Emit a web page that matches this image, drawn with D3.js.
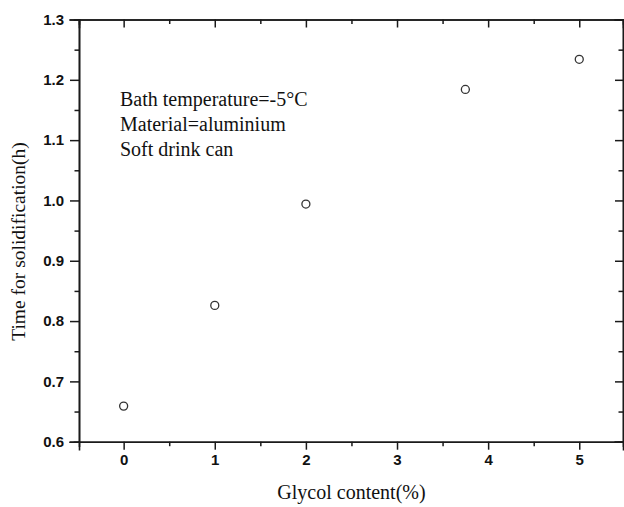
<!DOCTYPE html>
<html>
<head>
<meta charset="utf-8">
<script src="https://cdn.jsdelivr.net/npm/d3@7"></script>
<style>
  html, body { margin: 0; padding: 0; background: #fff; }
  svg { display: block; }
</style>
</head>
<body>
<svg id="chart" width="624" height="507"></svg>
<script>
// Glycol content (%) and measured solidification time (h)
const glycol = [0, 1, 2, 3.75, 5];
const solidTime = [0.659, 0.826, 0.994, 1.184, 1.234];
const xTicks = [0, 1, 2, 3, 4, 5];
const yTicks = [0.6, 0.7, 0.8, 0.9, 1.0, 1.1, 1.2, 1.3];
const notes = ["Bath temperature=-5°C", "Material=aluminium", "Soft drink can"];

const svg = d3.select("#chart");
const plotLeft = 79, plotRight = 623, plotTop = 19.5, plotBottom = 441.7;

const x = d3.scaleLinear().domain([-0.49, 5.48]).range([plotLeft, plotRight]);
const y = d3.scaleLinear().domain([0.6, 1.3]).range([plotBottom, plotTop]);

const axisColor = "#1a1a1a";
const tickFont = "'Liberation Sans', Arial, sans-serif";
const serif = "'Liberation Serif', 'Times New Roman', serif";

const xMinor = d3.range(-0.5, 5.51, 0.5).filter(v => v >= -0.49 && v <= 5.48 && Math.abs(v - Math.round(v)) > 1e-6);
const yMinor = d3.range(0.65, 1.3, 0.1).map(v => +v.toFixed(2));

function styleAxis(g) {
  g.select(".domain").attr("stroke", axisColor).attr("stroke-width", 1.6);
  g.selectAll(".tick line").attr("stroke", axisColor).attr("stroke-width", 1.5);
  g.selectAll(".tick text")
    .attr("fill", "#111")
    .style("font-family", tickFont)
    .style("font-size", "15px")
    .style("font-weight", "bold");
}

// Bottom axis: major and minor ticks
svg.append("g").attr("transform", `translate(0,${plotBottom})`)
  .call(d3.axisBottom(x).tickValues(xMinor).tickSize(4.5).tickFormat(""))
  .call(styleAxis);
svg.append("g").attr("transform", `translate(0,${plotBottom})`)
  .call(d3.axisBottom(x).tickValues(xTicks).tickSize(8).tickPadding(5).tickFormat(d3.format("d")))
  .call(styleAxis);

// Top axis: inward ticks, no labels
svg.append("g").attr("transform", `translate(0,${plotTop})`)
  .call(d3.axisTop(x).tickValues(xMinor).tickSize(-4.5).tickFormat(""))
  .call(styleAxis);
svg.append("g").attr("transform", `translate(0,${plotTop})`)
  .call(d3.axisTop(x).tickValues(xTicks).tickSize(-8).tickFormat(""))
  .call(styleAxis);

// Left axis
svg.append("g").attr("transform", `translate(${plotLeft},0)`)
  .call(d3.axisLeft(y).tickValues(yMinor).tickSize(4.5).tickFormat(""))
  .call(styleAxis);
svg.append("g").attr("transform", `translate(${plotLeft},0)`)
  .call(d3.axisLeft(y).tickValues(yTicks).tickSize(9).tickPadding(6).tickFormat(d3.format(".1f")))
  .call(styleAxis);

// Right axis: inward ticks, no labels
svg.append("g").attr("transform", `translate(${plotRight},0)`)
  .call(d3.axisRight(y).tickValues(yMinor).tickSize(-4.5).tickFormat(""))
  .call(styleAxis);
svg.append("g").attr("transform", `translate(${plotRight},0)`)
  .call(d3.axisRight(y).tickValues(yTicks).tickSize(-8).tickFormat(""))
  .call(styleAxis);

svg.selectAll(".domain").attr("stroke-linecap", "square");

// Data points: open circles
svg.append("g").selectAll("circle")
  .data(glycol.map((g, i) => ({ g, t: solidTime[i] })))
  .join("circle")
  .attr("cx", d => x(d.g))
  .attr("cy", d => y(d.t))
  .attr("r", 4)
  .attr("fill", "none")
  .attr("stroke", "#333")
  .attr("stroke-width", 1.3);

// Annotation block
svg.append("g").selectAll("text")
  .data(notes)
  .join("text")
  .attr("x", 120)
  .attr("y", (d, i) => 105.5 + i * 25)
  .attr("fill", "#111")
  .style("font-family", serif)
  .style("font-size", "20px")
  .text(d => d);

// Axis titles
svg.append("text")
  .attr("x", 351.5)
  .attr("y", 498.5)
  .attr("text-anchor", "middle")
  .attr("fill", "#111")
  .style("font-family", serif)
  .style("font-size", "20px")
  .text("Glycol content(%)");

svg.append("text")
  .attr("transform", "translate(25,241.5) rotate(-90)")
  .attr("text-anchor", "middle")
  .attr("fill", "#111")
  .style("font-family", serif)
  .style("font-size", "19.5px")
  .text("Time for solidification(h)");
</script>
</body>
</html>
